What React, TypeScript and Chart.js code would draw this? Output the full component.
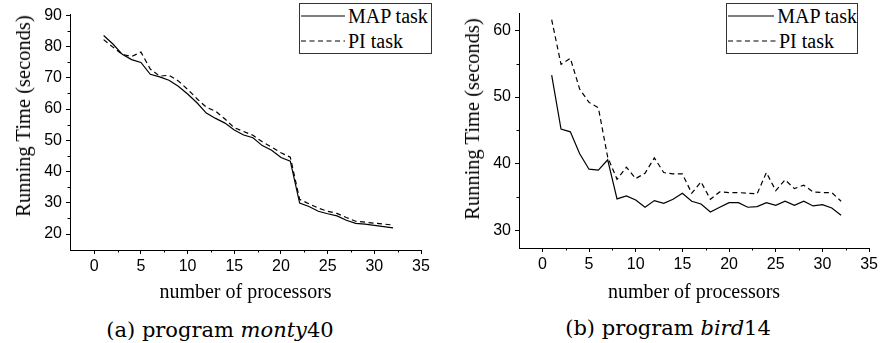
import React, { useEffect, useRef } from 'react';
import { Chart, registerables } from 'chart.js';

Chart.register(...registerables);

// ---------- data ----------
const processors = [1, 2, 3, 4, 5, 6, 7, 8, 9, 10, 11, 12, 13, 14, 15, 16, 17, 18, 19, 20, 21, 22, 23, 24, 25, 26, 27, 28, 29, 30, 31, 32];

const montyMap = [83.5, 80.8, 77.5, 75.8, 74.9, 71.1, 70.3, 69.2, 67.3, 64.8, 62.0, 58.7, 57.0, 55.5, 53.3, 51.7, 50.8, 48.3, 46.8, 44.5, 43.3, 29.9, 28.8, 27.3, 26.5, 25.8, 24.4, 23.4, 23.2, 22.8, 22.4, 22.0];
const montyPi = [82.2, 79.8, 77.5, 76.8, 78.2, 72.8, 70.5, 70.8, 69.0, 66.3, 63.3, 60.6, 59.3, 56.8, 54.0, 52.8, 51.6, 49.5, 47.8, 46.0, 44.6, 31.1, 29.7, 28.3, 27.3, 26.6, 25.3, 24.1, 23.8, 23.5, 23.2, 22.9];

const birdMap = [53.3, 45.2, 44.8, 41.5, 39.2, 39.05, 40.6, 34.75, 35.2, 34.6, 33.5, 34.5, 34.1, 34.7, 35.6, 34.4, 34.0, 32.8, 33.5, 34.2, 34.2, 33.5, 33.6, 34.2, 33.8, 34.4, 33.8, 34.4, 33.7, 33.9, 33.4, 32.3];
const birdPi = [61.6, 54.9, 55.8, 51.2, 49.2, 48.4, 41.0, 37.7, 39.5, 37.8, 38.6, 40.9, 38.7, 38.5, 38.5, 35.6, 37.3, 34.7, 35.8, 35.7, 35.7, 35.6, 35.5, 38.7, 36.0, 37.6, 36.3, 36.8, 35.8, 35.7, 35.7, 34.4];

const seriesLabels = ['MAP task', 'PI task'];
const xTitle = 'number of processors';
const yTitle = 'Running Time (seconds)';

const xMinorTicks = [2.5, 7.5, 12.5, 17.5, 22.5, 27.5, 32.5];
const montyYMinor = [25, 35, 45, 55, 65, 75, 85];
const birdYMinor = [35, 45, 55];

// ---------- helpers ----------
const minorTickPlugin = {
  id: 'minorTicks',
  afterDraw(chart: any, _args: any, opts: any) {
    const { ctx } = chart;
    const xs = chart.scales.x;
    const ys = chart.scales.y;
    ctx.save();
    ctx.strokeStyle = '#000';
    ctx.lineWidth = 1;
    for (const v of opts.x || []) {
      const px = Math.round(xs.getPixelForValue(v)) + 0.5;
      ctx.beginPath();
      ctx.moveTo(px, xs.top);
      ctx.lineTo(px, xs.top + opts.len);
      ctx.stroke();
    }
    for (const v of opts.y || []) {
      const py = Math.round(ys.getPixelForValue(v)) + 0.5;
      ctx.beginPath();
      ctx.moveTo(ys.right, py);
      ctx.lineTo(ys.right - opts.len, py);
      ctx.stroke();
    }
    ctx.restore();
  },
};

const toPts = (vals: number[]) => processors.map((p, i) => ({ x: p, y: vals[i] }));

interface PanelProps {
  left: number;
  width: number;
  height: number;
  yAxisWidth: number;
  xAxisHeight: number;
  padTop: number;
  padRight: number;
  xMin: number;
  yMin: number;
  yMax: number;
  mapVals: number[];
  piVals: number[];
  yMinor: number[];
}

function Panel(p: PanelProps) {
  const ref = useRef<HTMLCanvasElement>(null);
  useEffect(() => {
    if (!ref.current) return;
    const chart = new Chart(ref.current, {
      type: 'line',
      data: {
        datasets: [
          {
            label: seriesLabels[0],
            data: toPts(p.mapVals),
            borderColor: '#000',
            borderWidth: 1.2,
            pointRadius: 0,
            tension: 0,
            fill: false,
          },
          {
            label: seriesLabels[1],
            data: toPts(p.piVals),
            borderColor: '#000',
            borderWidth: 1.2,
            borderDash: [5, 3.5],
            pointRadius: 0,
            tension: 0,
            fill: false,
          },
        ],
      },
      options: {
        responsive: false,
        animation: false,
        devicePixelRatio: 1,
        layout: { padding: { top: p.padTop, right: p.padRight, left: 0, bottom: 0 } },
        plugins: {
          legend: { display: false },
          tooltip: { enabled: false },
          minorTicks: { x: xMinorTicks, y: p.yMinor, len: 2.5 },
        } as any,
        scales: {
          x: {
            type: 'linear',
            min: p.xMin,
            max: 35,
            afterFit: (s: any) => {
              s.height = p.xAxisHeight;
            },
            ticks: {
              stepSize: 5,
              includeBounds: false,
              color: '#000',
              padding: 3,
              maxRotation: 0,
              font: { family: 'Liberation Sans', size: 16 },
            },
            grid: { drawOnChartArea: false, drawTicks: true, tickLength: 4, color: '#000' },
            border: { color: '#000', width: 1 },
            title: {
              display: true,
              text: xTitle,
              color: '#000',
              padding: { top: 0, bottom: 0 },
              font: { family: 'Liberation Serif', size: 20 },
            },
          },
          y: {
            type: 'linear',
            min: p.yMin,
            max: p.yMax,
            afterFit: (s: any) => {
              s.width = p.yAxisWidth;
            },
            ticks: {
              stepSize: 10,
              includeBounds: false,
              color: '#000',
              padding: 4,
              font: { family: 'Liberation Sans', size: 16 },
            },
            grid: { drawOnChartArea: false, drawTicks: true, tickLength: 4, color: '#000' },
            border: { color: '#000', width: 1 },
          },
        },
      },
      plugins: [minorTickPlugin],
    });
    return () => chart.destroy();
  }, []);
  return (
    <canvas
      ref={ref}
      width={p.width}
      height={p.height}
      style={{ position: 'absolute', left: p.left, top: 0, width: p.width, height: p.height }}
    />
  );
}

function Legend({ left, top, width, height, sample }: { left: number; top: number; width: number; height: number; sample: number }) {
  const row = (dash: boolean, label: string) => (
    <div style={{ display: 'flex', alignItems: 'center', height: (height - 2) / 2 }}>
      <svg width={sample} height={10} style={{ display: 'block', marginLeft: 1 }}>
        <line x1={0} y1={5} x2={sample} y2={5} stroke="#000" strokeWidth={1.2} strokeDasharray={dash ? '5 3.5' : undefined} />
      </svg>
      <span style={{ marginLeft: 3, whiteSpace: 'nowrap' }}>{label}</span>
    </div>
  );
  return (
    <div
      style={{
        position: 'absolute',
        left,
        top,
        width,
        height,
        boxSizing: 'border-box',
        border: '1px solid #333',
        background: '#fff',
        fontFamily: 'Liberation Serif',
        fontSize: 20,
        lineHeight: '22px',
        color: '#000',
      }}
    >
      {row(false, seriesLabels[0])}
      {row(true, seriesLabels[1])}
    </div>
  );
}

function YTitle({ cx, cy }: { cx: number; cy: number }) {
  return (
    <div
      style={{
        position: 'absolute',
        left: cx,
        top: cy,
        transform: 'translate(-50%, -50%) rotate(-90deg)',
        whiteSpace: 'nowrap',
        fontFamily: 'Liberation Serif',
        fontSize: 20.5,
        lineHeight: '24px',
        color: '#000',
      }}
    >
      {yTitle}
    </div>
  );
}

function Caption({ cx, cy, tag, name, num }: { cx: number; cy: number; tag: string; name: string; num: string }) {
  return (
    <div
      style={{
        position: 'absolute',
        left: cx,
        top: cy,
        transform: 'translate(-50%, -50%)',
        whiteSpace: 'nowrap',
        fontFamily: 'DejaVu Serif',
        fontSize: 21,
        lineHeight: '26px',
        color: '#000',
      }}
    >
      ({tag}) program <i>{name}</i>
      {num}
    </div>
  );
}

export default function App() {
  return (
    <div style={{ position: 'fixed', left: 0, top: 0, width: 881, height: 343, background: '#fff', overflow: 'hidden' }}>
      <Panel
        left={0}
        width={440}
        height={305}
        yAxisWidth={70}
        xAxisHeight={55}
        padTop={14}
        padRight={19}
        xMin={-2.6}
        yMin={14.9}
        yMax={90.4}
        mapVals={montyMap}
        piVals={montyPi}
        yMinor={montyYMinor}
      />
      <Panel
        left={440}
        width={441}
        height={305}
        yAxisWidth={79}
        xAxisHeight={57}
        padTop={12}
        padRight={11}
        xMin={-2.5}
        yMin={27.4}
        yMax={62.5}
        mapVals={birdMap}
        piVals={birdPi}
        yMinor={birdYMinor}
      />
      <YTitle cx={23} cy={116} />
      <YTitle cx={472} cy={119} />
      <Legend left={299} top={3} width={133} height={51} sample={44} />
      <Legend left={726} top={3} width={132} height={51} sample={48} />
      <Caption cx={220} cy={330} tag="a" name="monty" num="40" />
      <Caption cx={668} cy={328} tag="b" name="bird" num="14" />
    </div>
  );
}
